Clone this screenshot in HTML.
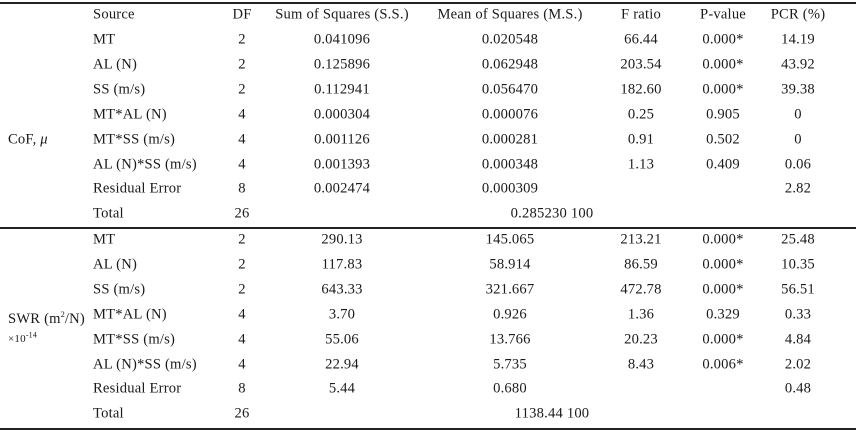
<!DOCTYPE html>
<html><head><meta charset="utf-8"><style>
body{margin:0;background:#fff;}
#t{position:relative;width:858px;height:433px;font-family:"Liberation Serif",serif;font-size:14.6px;letter-spacing:0.2px;color:#1a1a1a;}
.c{position:absolute;white-space:nowrap;transform:translate(-50%,-50%);}
.l{position:absolute;white-space:nowrap;transform:translateY(-50%);}
.rule{position:absolute;left:0;width:856px;height:1.5px;background:#222;}
sup{font-size:8px;}
</style></head><body>
<div id="t">
<div class="rule" style="top:2px"></div>
<div class="rule" style="top:227px"></div>
<div class="rule" style="top:428px"></div>
<div class="l" style="left:8px;top:140px">CoF, <i>μ</i></div>
<div class="l" style="left:8px;line-height:15px;transform:none;top:307px">SWR (m<sup>2</sup>/N)<br><span style="font-size:11px">×10<sup>-14</sup></span></div>
</div>
<script>
const headers=["Source","DF","Sum of Squares (S.S.)","Mean of Squares (M.S.)","F ratio","P-value","PCR (%)"];
const sources=["MT","AL (N)","SS (m/s)","MT*AL (N)","MT*SS (m/s)","AL (N)*SS (m/s)","Residual Error","Total"];
const df=["2","2","2","4","4","4","8","26"];
const ss1=["0.041096","0.125896","0.112941","0.000304","0.001126","0.001393","0.002474",""];
const ms1=["0.020548","0.062948","0.056470","0.000076","0.000281","0.000348","0.000309",""];
const f1=["66.44","203.54","182.60","0.25","0.91","1.13","",""];
const p1=["0.000*","0.000*","0.000*","0.905","0.502","0.409","",""];
const pcr1=["14.19","43.92","39.38","0","0","0.06","2.82",""];
const total1="0.285230 100";
const ss2=["290.13","117.83","643.33","3.70","55.06","22.94","5.44",""];
const ms2=["145.065","58.914","321.667","0.926","13.766","5.735","0.680",""];
const f2=["213.21","86.59","472.78","1.36","20.23","8.43","",""];
const p2=["0.000*","0.000*","0.000*","0.329","0.000*","0.006*","",""];
const pcr2=["25.48","10.35","56.51","0.33","4.84","2.02","0.48",""];
const total2="1138.44 100";
const t=document.getElementById('t');
const colX=[93,242,342,510,641,723,798];
function add(txt,x,y,cls,name){const d=document.createElement('div');d.className=cls;d.style.left=x+'px';d.style.top=y+'px';d.textContent=txt;


t.appendChild(d);}
headers.forEach((h,i)=>add(h,colX[i],15,i==0?'l':'c','header-'+i));
function block(y0,ss,ms,f,p,pcr,tot,tag){
 sources.forEach((s,i)=>{const y=y0+i*24.9;
  add(s,colX[0],y,'l',tag+'-source-'+i);
  add(df[i],colX[1],y,'c',tag+'-df-'+i);
  if(ss[i])add(ss[i],colX[2],y,'c',tag+'-ss-'+i);
  if(ms[i])add(ms[i],colX[3],y,'c',tag+'-ms-'+i);
  if(f[i])add(f[i],colX[4],y,'c',tag+'-f-'+i);
  if(p[i])add(p[i],colX[5],y,'c',tag+'-p-'+i);
  if(pcr[i])add(pcr[i],colX[6],y,'c',tag+'-pcr-'+i);
 });
 add(tot,552,y0+7*24.9,'c',tag+'-total-value');
}
block(40,ss1,ms1,f1,p1,pcr1,total1,'cof');
block(240,ss2,ms2,f2,p2,pcr2,total2,'swr');
</script>
</body></html>
